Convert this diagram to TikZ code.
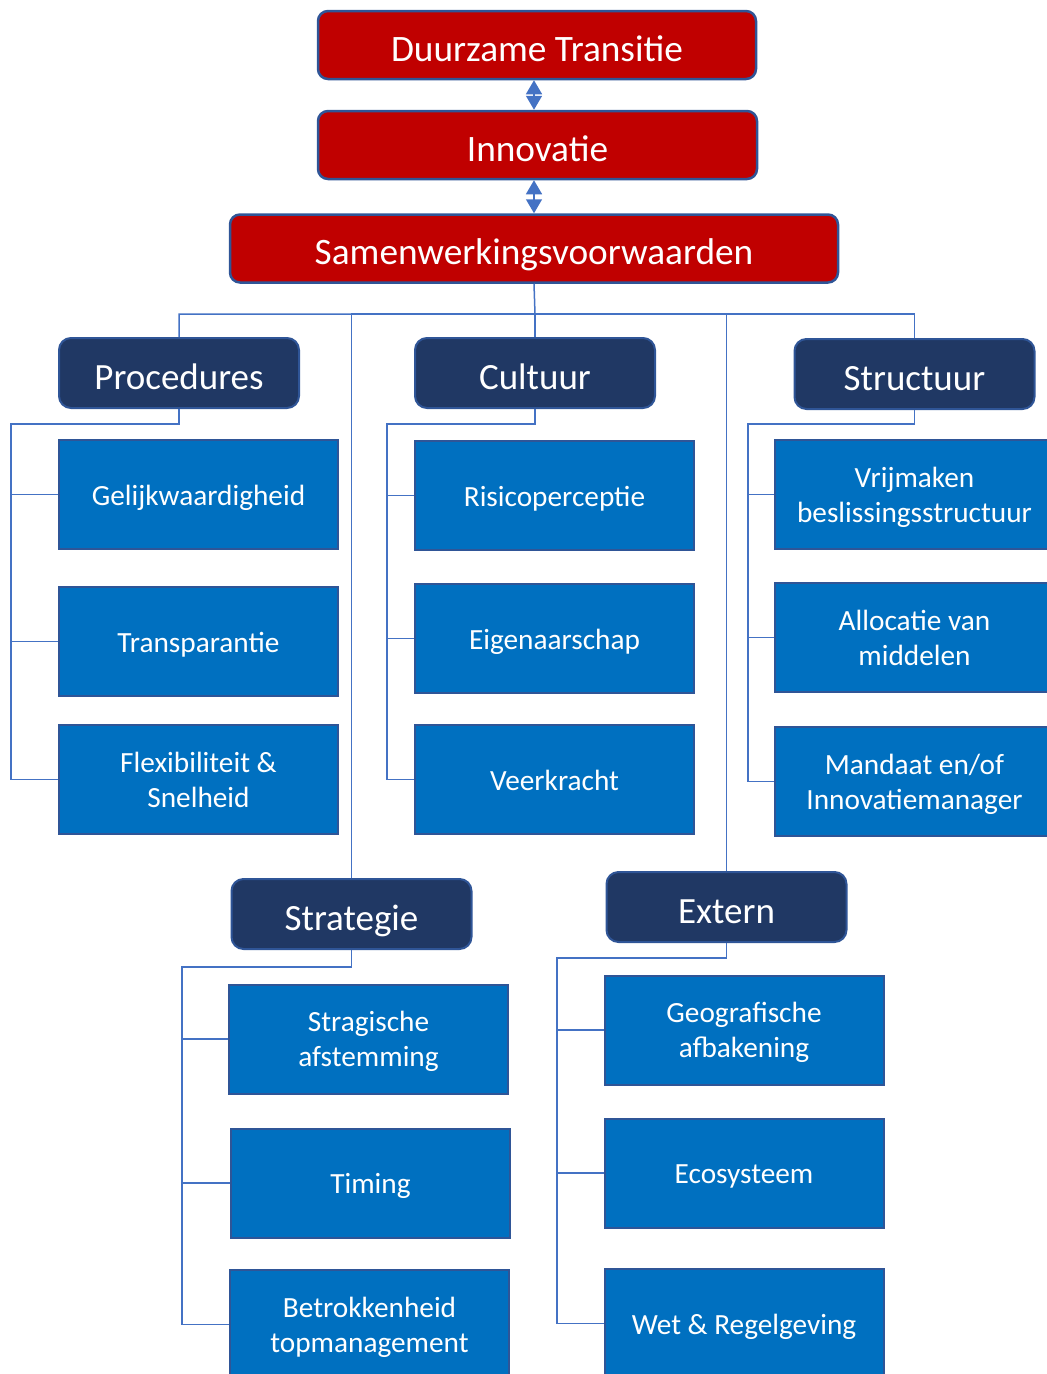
\documentclass[tikz,border=0pt]{standalone}
\usepackage{fontspec}
\setmainfont{Carlito}
\usetikzlibrary{arrows.meta}
\definecolor{redfill}{HTML}{C00000}
\definecolor{navy}{HTML}{203864}
\definecolor{boxblue}{HTML}{0070C0}
\definecolor{edgeblue}{HTML}{2F5597}
\definecolor{linkblue}{HTML}{4472C4}
\begin{document}
\begin{tikzpicture}[x=1pt,y=-1pt,
  topbox/.style={draw=edgeblue, line width=2.5pt, fill=redfill, rounded corners=10pt,
    text=white, inner sep=0pt, font=\fontsize{37.3}{45}\selectfont,
    text height=35.2pt, text depth=3pt, minimum height=68pt},
  headbox/.style={draw=edgeblue, line width=2pt, fill=navy, rounded corners=12pt,
    text=white, inner sep=0pt, font=\fontsize{37}{45}\selectfont,
    text height=35pt, text depth=3pt, minimum width=240pt, minimum height=70pt},
  childbox/.style={draw=edgeblue, line width=2pt, fill=boxblue,
    text=white, inner sep=0pt, font=\fontsize{29.3}{35}\selectfont,
    minimum width=279pt, minimum height=109pt, align=center},
  onel/.style={text height=23.3pt, text depth=1.9pt},
  twol/.style={text height=58pt, text depth=3pt},
  conn/.style={draw=linkblue, line width=1.5pt},
  dbl/.style={draw=linkblue, line width=1.5pt, fill=linkblue,
    {Triangle[width=16pt,length=14pt]}-{Triangle[width=16pt,length=14pt]}}
]
\useasboundingbox (0,0) rectangle (1047,1374);
\clip (0,0) rectangle (1047,1374);

% top chain
\node[topbox, minimum width=438pt] (dt) at (537,45) {Duurzame Transitie};
\node[topbox, minimum width=439pt] (inn) at (537.5,145) {Innovatie};
\node[topbox, minimum width=608pt] (samen) at (534,248.5) {Samenwerkingsvoorwaarden};

\draw[dbl] (samen.north |- dt.south) -- (samen.north |- inn.north);
\draw[dbl] (samen.north |- inn.south) -- (samen.north);

% headers
\node[headbox] (proc) at (179,373) {Procedures};
\node[headbox] (cult) at (535,373) {Cultuur};
\node[headbox] (struc) at (914.5,374) {Structuur};
\node[headbox] (strat) at (351.5,914) {Strategie};
\node[headbox] (ext) at (726.5,907) {Extern};

% children
\node[childbox, onel] (gel) at (198.5,494.5) {Gelijkwaardigheid};
\node[childbox, onel] (tra) at (198.5,641.5) {Transparantie};
\node[childbox, twol] (flex) at (198.5,779.5) {Flexibiliteit \&\\Snelheid};

\node[childbox, onel] (ris) at (554.5,495.5) {Risicoperceptie};
\node[childbox, onel] (eig) at (554.5,638.5) {Eigenaarschap};
\node[childbox, onel] (vee) at (554.5,779.5) {Veerkracht};

\node[childbox, twol] (vri) at (914.5,494.5) {Vrijmaken\\beslissingsstructuur};
\node[childbox, twol] (all) at (914.5,637.5) {Allocatie van\\middelen};
\node[childbox, twol] (man) at (914.5,781.5) {Mandaat en/of\\Innovatiemanager};

\node[childbox, twol] (sta) at (368.5,1039) {Stragische\\afstemming};
\node[childbox, onel] (tim) at (370.5,1183) {Timing};
\node[childbox, twol] (bet) at (369.5,1324.5) {Betrokkenheid\\topmanagement};

\node[childbox, twol] (geo) at (744,1030) {Geografische\\afbakening};
\node[childbox, onel] (eco) at (744,1173) {Ecosysteem};
\node[childbox, onel] (wet) at (744,1323.5) {Wet \& Regelgeving};

% hub connectors
\coordinate (hub) at (535,314);
\draw[conn] (samen.south) -- (hub) -| (proc.north);
\draw[conn] (hub) -| (strat.north);
\draw[conn] (hub) -- (cult.north);
\draw[conn] (hub) -| (struc.north);
\draw[conn] (hub) -| (ext.north);

% spines
\coordinate (psp) at (11,424);
\coordinate (csp) at (387,424);
\coordinate (ssp) at (748,424);
\coordinate (stsp) at (182,967);
\coordinate (esp) at (557,958);

\draw[conn] (proc.south) |- (psp) |- (gel.west);
\draw[conn] (psp) |- (tra.west);
\draw[conn] (psp) |- (flex.west);

\draw[conn] (cult.south) |- (csp) |- (ris.west);
\draw[conn] (csp) |- (eig.west);
\draw[conn] (csp) |- (vee.west);

\draw[conn] (struc.south) |- (ssp) |- (vri.west);
\draw[conn] (ssp) |- (all.west);
\draw[conn] (ssp) |- (man.west);

\draw[conn] (strat.south) |- (stsp) |- (sta.west);
\draw[conn] (stsp) |- (tim.west);
\draw[conn] (stsp) |- (bet.west);

\draw[conn] (ext.south) |- (esp) |- (geo.west);
\draw[conn] (esp) |- (eco.west);
\draw[conn] (esp) |- (wet.west);
\end{tikzpicture}
\end{document}
